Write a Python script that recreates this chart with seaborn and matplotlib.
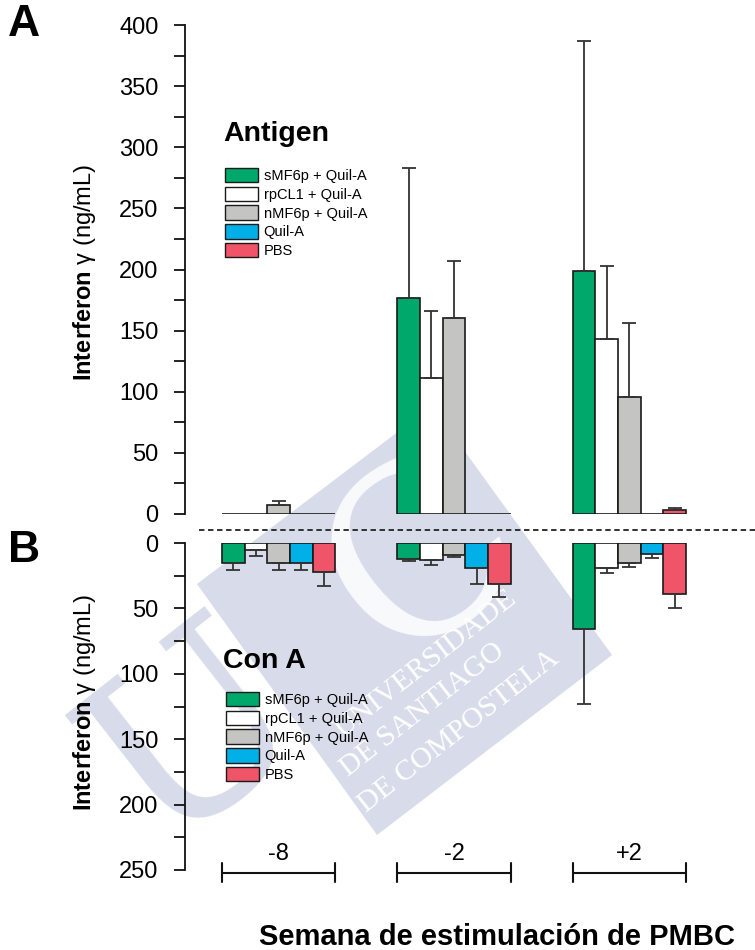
import numpy as np
import pandas as pd
import matplotlib
matplotlib.use('Agg')
import matplotlib.pyplot as plt
import seaborn as sns
from matplotlib.patches import Patch, Polygon
from matplotlib.lines import Line2D
from matplotlib.ticker import MultipleLocator
from matplotlib.transforms import Affine2D

# ---------------- data ----------------
weeks = ['-8', '-2', '+2']
treatments = ['sMF6p + Quil-A', 'rpCL1 + Quil-A', 'nMF6p + Quil-A', 'Quil-A', 'PBS']
colors = ['#00A86B', '#FFFFFF', '#C4C4C2', '#00B0E6', '#EF5469']

# Panel A (Antigen): one row per treatment, columns = weeks
antigen_values = [[0, 177, 199],
                  [0, 111, 143],
                  [7, 160, 96],
                  [0, 0, 0],
                  [0, 0, 3]]
antigen_errors = [[0, 106, 188],
                  [0, 55, 60],
                  [4, 47, 60],
                  [0, 0, 0],
                  [0, 0, 2]]

# Panel B (Con A)
cona_values = [[15, 12, 66],
               [5, 13, 19],
               [15, 9, 15],
               [15, 19, 8.5],
               [22, 31, 39]]
cona_errors = [[6, 2, 57],
               [5, 4, 4],
               [6, 2, 3],
               [6, 12, 3],
               [11, 10, 11]]

top_ticks = [0, 50, 100, 150, 200, 250, 300, 350, 400]
bottom_ticks = [0, 50, 100, 150, 200, 250]


def to_long(vals):
    rows = []
    for t, row in zip(treatments, vals):
        for w, v in zip(weeks, row):
            rows.append({'week': w, 'treatment': t, 'value': v})
    return pd.DataFrame(rows)


sns.set_theme(style='white')
plt.rcParams['font.family'] = ['Liberation Sans', 'DejaVu Sans']
plt.rcParams['mathtext.fontset'] = 'custom'
plt.rcParams['mathtext.bf'] = 'Liberation Sans:bold'
plt.rcParams['mathtext.rm'] = 'Liberation Sans'
plt.rcParams['text.color'] = 'black'
plt.rcParams['axes.labelcolor'] = 'black'
plt.rcParams['ytick.color'] = 'black'

W, H = 755, 950
fig = plt.figure(figsize=(W / 100, H / 100), dpi=100)
fig.patch.set_facecolor('white')
pix = Affine2D().scale(1 / W, -1 / H).translate(0, 1) + fig.transFigure

# ---- background watermark (USC) ----
lav = '#D8DCEA'
fig.add_artist(Polygon([(432, 406), (612, 655), (377, 835), (197, 584)], closed=True,
                       transform=pix, facecolor=lav, edgecolor='none', zorder=-3))
wm = fig.text(0, 0, 'US', transform=pix, fontsize=170, family='DejaVu Serif',
              color=lav, rotation=38, ha='center', va='center', zorder=-4)
wm.set_position((262, 688))
wc = fig.text(0, 0, 'C', transform=pix, fontsize=170, family='DejaVu Serif',
              color='white', alpha=0.85, rotation=38, ha='center', va='center', zorder=-2)
wc.set_position((425, 560))
for txt, (px, py) in zip(['UNIVERSIDADE', 'DE SANTIAGO', 'DE COMPOSTELA'],
                         [(342, 738), (348, 777), (366, 813)]):
    t = fig.text(0, 0, txt, transform=pix, fontsize=21.5, family='Liberation Serif',
                 color='white', rotation=38, rotation_mode='anchor',
                 ha='left', va='baseline', zorder=-1)
    t.set_position((px, py))

ax1 = fig.add_axes([185 / W, 1 - 514 / H, 570 / W, (514 - 25) / H])
ax2 = fig.add_axes([185 / W, 1 - 870 / H, 570 / W, (870 - 543) / H])
for ax in (ax1, ax2):
    ax.patch.set_alpha(0)

palette = dict(zip(treatments, colors))
edge = '#1a1a1a'
errc = '#333333'


def draw_panel(ax, vals, errs):
    df = to_long(vals)
    sns.barplot(data=df, x='week', y='value', hue='treatment', order=weeks,
                hue_order=treatments, palette=palette, saturation=1,
                width=0.646, gap=0, edgecolor=edge, linewidth=1.2,
                errorbar=None, legend=False, ax=ax)
    bars = list(ax.containers)
    for cont, erow in zip(bars, errs):
        for bar, e in zip(cont, erow):
            if e > 0:
                x = bar.get_x() + bar.get_width() / 2
                y = bar.get_height()
                ax.errorbar([x], [y], yerr=[[0], [e]], fmt='none', ecolor=errc,
                            elinewidth=1.3, capsize=5, capthick=1.3, zorder=1)
    ax.set_xlim(-0.534, 2.717)
    ax.set_xlabel('')
    ax.set_ylabel('')
    ax.set_xticks([])
    for s in ('top', 'right', 'bottom'):
        ax.spines[s].set_visible(False)
    ax.spines['left'].set_linewidth(1.3)
    ax.spines['left'].set_color('#111111')
    ax.yaxis.set_minor_locator(MultipleLocator(25))
    ax.tick_params(axis='y', which='both', direction='out', length=8, width=1.3,
                   color='#111111', left=True)
    ax.tick_params(axis='y', which='major', labelsize=17, pad=11, labelcolor='black')
    return bars


bars1 = draw_panel(ax1, antigen_values, antigen_errors)
ax1.set_ylim(0, 400)
ax1.set_yticks(top_ticks)

bars2 = draw_panel(ax2, cona_values, cona_errors)
ax2.set_ylim(250, 0)
ax2.set_yticks(bottom_ticks)

# group brackets with week labels under panel B
for i, w in enumerate(weeks):
    first = bars2[0][i]
    last = bars2[-1][i]
    left = first.get_x()
    right = last.get_x() + last.get_width()
    ax2.plot([left, right], [252, 252], color='#111111', lw=1.5, clip_on=False)
    ax2.plot([left, left], [245, 259], color='#111111', lw=1.5, clip_on=False)
    ax2.plot([right, right], [245, 259], color='#111111', lw=1.5, clip_on=False)
    ax2.text((left + right) / 2, 238, w, ha='center', va='center', fontsize=17,
             color='black', clip_on=False)

# legends
handles = [Patch(facecolor=c, edgecolor=edge, linewidth=1.0) for c in colors]
leg_kw = dict(frameon=False, fontsize=10.5, handlelength=2.25, handleheight=1.15,
              labelspacing=0.24, handletextpad=0.4, borderpad=0, borderaxespad=0,
              loc='upper left', labelcolor='black')
ax1.legend(handles, treatments, bbox_to_anchor=(40 / 570, 1 - (168 - 25) / 489), **leg_kw)
ax2.legend(handles, treatments, bbox_to_anchor=(41 / 570, 1 - (692 - 543) / 327), **leg_kw)

# panel titles
fig.text(223 / W, 1 - 134 / H, 'Antigen', fontsize=20.5, fontweight='bold', va='center', color='black')
fig.text(223 / W, 1 - 661 / H, 'Con A', fontsize=20.5, fontweight='bold', va='center', color='black')

# panel letters
fig.text(8 / W, 1 - 24 / H, 'A', fontsize=32, fontweight='bold', va='center', color='black')
fig.text(8 / W, 1 - 550 / H, 'B', fontsize=32, fontweight='bold', va='center', color='black')

# y labels
ylab = r'$\mathbf{Interferon}$ γ (ng/mL)'
fig.text(85 / W, 1 - 272 / H, ylab, fontsize=17, rotation=90, ha='center', va='center', color='black')
fig.text(85 / W, 1 - 702 / H, ylab, fontsize=17, rotation=90, ha='center', va='center', color='black')

# x label
fig.text(497 / W, 1 - 937 / H, 'Semana de estimulación de PMBC', fontsize=21,
         fontweight='bold', ha='center', va='center', color='black')

# dashed separator
fig.add_artist(Line2D([199 / W, 1.0], [1 - 530 / H, 1 - 530 / H], transform=fig.transFigure,
                      ls=(0, (3, 2)), color='#222222', lw=1.3))

fig.savefig('out.png', dpi=100)
